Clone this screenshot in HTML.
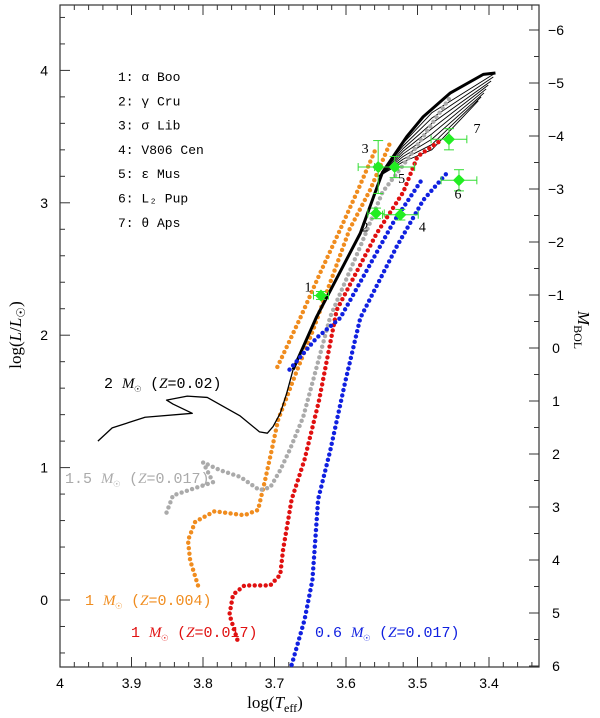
<!DOCTYPE html>
<html><head><meta charset="utf-8">
<style>
body{margin:0;background:#fff;}
svg{display:block;font-family:"Liberation Serif",serif;}
</style></head>
<body>
<svg id="chart" width="600" height="718" xmlns="http://www.w3.org/2000/svg"></svg>
<script>
// data: tracks as [logT, logL] vertices
const trackRed=[[3.752,-0.30],[3.763,-0.11],[3.758,0.04],[3.742,0.11],[3.706,0.11],[3.692,0.19],[3.688,0.38],[3.676,0.76],[3.658,1.06],[3.638,1.50],[3.613,2.19],[3.557,2.77],[3.520,3.08],[3.500,3.35],[3.465,3.48]];
const trackOrange=[[3.807,0.11],[3.818,0.30],[3.821,0.45],[3.811,0.59],[3.784,0.67],[3.742,0.64],[3.723,0.68],[3.713,0.91],[3.704,1.13],[3.695,1.36],[3.671,1.70],[3.646,2.04],[3.626,2.34],[3.595,2.80],[3.566,3.10],[3.537,3.47]];
const trackOrange2=[[3.696,1.76],[3.664,2.13],[3.637,2.46],[3.608,2.80],[3.583,3.10],[3.559,3.40]];
const trackGray=[[3.851,0.66],[3.842,0.79],[3.786,0.89],[3.800,1.04],[3.776,0.98],[3.748,0.93],[3.721,0.83],[3.706,0.85],[3.692,0.98],[3.679,1.13],[3.660,1.38],[3.646,1.66],[3.622,2.14],[3.580,2.67],[3.549,3.08],[3.511,3.35],[3.473,3.65],[3.454,3.80]];
const trackBlue=[[3.676,-0.49],[3.658,-0.15],[3.647,0.15],[3.643,0.45],[3.639,0.76],[3.622,1.13],[3.601,1.65],[3.580,2.13],[3.529,2.67],[3.492,3.02],[3.458,3.23]];
const trackBlue2=[[3.679,1.74],[3.641,1.98],[3.608,2.13],[3.575,2.45],[3.534,2.85],[3.492,3.19]];
const track2M=[[3.947,1.20],[3.927,1.30],[3.881,1.38],[3.815,1.41],[3.842,1.48],[3.851,1.51],[3.822,1.54],[3.794,1.53],[3.748,1.39],[3.721,1.27],[3.710,1.26],[3.702,1.31],[3.692,1.41],[3.683,1.56],[3.674,1.74]];
const track2Mrgb=[[3.674,1.74],[3.641,2.14],[3.580,2.77],[3.549,3.23],[3.515,3.50],[3.492,3.65],[3.454,3.83],[3.408,3.97],[3.391,3.98]];
const agbEnds=[[3.391,3.98],[3.394,3.95],[3.397,3.92],[3.401,3.89],[3.404,3.86],[3.407,3.83],[3.411,3.80],[3.415,3.77]];
const starNames=["1","2","3","4","5","6","7"];
const starT=[3.635,3.558,3.555,3.524,3.532,3.442,3.456];
const starL=[2.30,2.92,3.27,2.91,3.27,3.17,3.48];
const starTerr=[0.0105,0.0115,0.028,0.025,0.028,0.025,0.025];
const starLerr=[0.03,0.04,0.20,0.04,0.08,0.08,0.08];
const legendLines=["1: α Boo","2: γ Cru","3: σ Lib","4: V806 Cen","5: ε Mus","6: L₂ Pup","7: θ Aps"];
const xTicks=[4,3.9,3.8,3.7,3.6,3.5,3.4];
const yTicks=[0,1,2,3,4];
const mTicks=[-6,-5,-4,-3,-2,-1,0,1,2,3,4,5,6];

const X=t=>60+(4-t)*715;
const Y=l=>600-l*132.4;
const YM=m=>348+m*53;
const svg=document.getElementById('chart');
const NS='http://www.w3.org/2000/svg';
function mk(tag,attrs,parent){const e=document.createElementNS(NS,tag);for(const k in attrs)e.setAttribute(k,attrs[k]);(parent||svg).appendChild(e);return e;}

const frame=mk('rect',{x:60,y:5,width:479,height:662,fill:'none',stroke:'#333','stroke-width':1.2});



for(let i=0;i<=34;i++){const t=4-i*0.02;const x=X(t);if(x>539)continue;const maj=i%5===0;const L=maj?10:5;
mk('line',{x1:x,y1:667,x2:x,y2:667-L,stroke:'#333'});mk('line',{x1:x,y1:5,x2:x,y2:5+L,stroke:'#333'});}
xTicks.forEach(t=>{const e=mk('text',{x:X(t),y:688,'text-anchor':'middle','font-size':14,'font-family':'"Liberation Sans",sans-serif'});e.textContent=String(t);
});
for(let i=-3;i<=23;i++){const l=i*0.2;const y=Y(l);if(y<5||y>667)continue;const maj=i%5===0;const L=maj?10:5;
mk('line',{x1:60,y1:y,x2:60+L,y2:y,stroke:'#333'});}
yTicks.forEach(l=>{const e=mk('text',{x:48,y:Y(l)+5,'text-anchor':'end','font-size':14,'font-family':'"Liberation Sans",sans-serif'});e.textContent=String(l);
});
for(let i=-13;i<=12;i++){const m=i*0.5;const y=YM(m);if(y<5||y>667)continue;const maj=i%2===0;const L=maj?10:5;
mk('line',{x1:539,y1:y,x2:539-L,y2:y,stroke:'#333'});}
mTicks.forEach(m=>{const e=mk('text',{x:556,y:YM(m)+5,'text-anchor':'middle','font-size':14,'font-family':'"Liberation Sans",sans-serif'});e.textContent=m<0?'−'+(-m):String(m);
});

let e=mk('text',{x:275,y:708,'font-size':17,'text-anchor':'middle'});e.innerHTML='log(<tspan font-style="italic">T</tspan><tspan font-size="12" dy="4">eff</tspan><tspan dy="-4">)</tspan>';

e=mk('text',{x:0,y:0,'font-size':17,'text-anchor':'middle',transform:'translate(21,335) rotate(-90)'});e.innerHTML='log(<tspan font-style="italic">L</tspan>/<tspan font-style="italic">L</tspan><tspan font-size="12" dy="4">☉</tspan><tspan dy="-4">)</tspan>';

e=mk('text',{x:0,y:0,'font-size':17,'text-anchor':'middle',transform:'translate(578,330) rotate(90)'});e.innerHTML='<tspan font-style="italic">M</tspan><tspan font-size="12" dy="4">BOL</tspan>';


function dotted(pts,color,name,sp){const g=mk('g',{fill:color});
const P=pts.map(p=>[X(p[0]),Y(p[1])]);let carry=0;
for(let i=0;i<P.length-1;i++){const [x1,y1]=P[i],[x2,y2]=P[i+1];const d=Math.hypot(x2-x1,y2-y1);let s=carry;
while(s<=d){mk('circle',{cx:x1+(x2-x1)*s/d,cy:y1+(y2-y1)*s/d,r:2.2},g);s+=sp;}carry=s-d;}}
function line(pts,w,name){const p=mk('polyline',{points:pts.map(q=>X(q[0])+','+Y(q[1])).join(' '),fill:'none',stroke:'#000','stroke-width':w,'stroke-linejoin':'round'});
}

dotted(trackOrange,'#f08c1e','track-1msun-z0004',5.5);
dotted(trackOrange2,'#f08c1e','track-1msun-z0004-agb',5.5);
line(track2M,1.3,'track-2msun-ms');
line(track2Mrgb,3,'track-2msun-rgb');
agbEnds.forEach((p,i)=>{const s=[[3.554,3.20],[3.520,3.45-i*0.02],[3.480,3.68-i*0.04],p];line(s,0.9,'track-2msun-agb');});
dotted(trackGray,'#aaaaaa','track-1-5msun',5.5);
dotted(trackRed,'#e01010','track-1msun-z0017',5.5);
dotted(trackBlue,'#1020e0','track-0-6msun',5.5);
dotted(trackBlue2,'#1020e0','track-0-6msun-agb',5.5);

const nameOff=[[-13,-4],[-11,18],[-13,-14],[22,17],[7,16],[-1,18],[28,-6]];
starT.forEach((t,i)=>{const g=mk('g',{});
const x=X(t),y=Y(starL[i]),dx=starTerr[i]*715,dy=starLerr[i]*132.4;
mk('line',{x1:x-dx,y1:y,x2:x+dx,y2:y,stroke:'#33dd33'},g);mk('line',{x1:x,y1:y-dy,x2:x,y2:y+dy,stroke:'#33dd33'},g);
mk('line',{x1:x-dx,y1:y-4,x2:x-dx,y2:y+4,stroke:'#33dd33'},g);mk('line',{x1:x+dx,y1:y-4,x2:x+dx,y2:y+4,stroke:'#33dd33'},g);
mk('line',{x1:x-5,y1:y-dy,x2:x+5,y2:y-dy,stroke:'#33dd33'},g);mk('line',{x1:x-5,y1:y+dy,x2:x+5,y2:y+dy,stroke:'#33dd33'},g);
mk('polygon',{points:`${x},${y-6} ${x+6},${y} ${x},${y+6} ${x-6},${y}`,fill:'#22ee22'},g);
const tx=mk('text',{x:x+nameOff[i][0],y:y+nameOff[i][1],'font-size':14,'text-anchor':'middle'},g);tx.textContent=starNames[i];});

legendLines.forEach((s,i)=>{const t=mk('text',{x:118,y:81+i*24.3,'font-size':13,'font-family':'"Liberation Mono","DejaVu Sans Mono",monospace'});t.textContent=s;
});

function lab(x,y,c,html,name){const t=mk('text',{x:x,y:y,'font-size':15,fill:c,'font-family':'"Liberation Mono","DejaVu Sans Mono",monospace'});t.innerHTML=html;
}
const M='<tspan font-family="Liberation Serif" font-style="italic">M</tspan><tspan font-size="11" dy="4">☉</tspan><tspan dy="-4"> (<tspan font-family="Liberation Serif" font-style="italic">Z</tspan>=';
lab(104,388,'#000','2 '+M+'0.02)</tspan>','label-2msun');
lab(65,483,'#aaaaaa','1.5 '+M+'0.017)</tspan>','label-1-5msun');
lab(85,605,'#f08c1e','1 '+M+'0.004)</tspan>','label-1msun-z0004');
lab(131,637,'#e01010','1 '+M+'0.017)</tspan>','label-1msun-z0017');
lab(315,637,'#1020e0','0.6 '+M+'0.017)</tspan>','label-0-6msun');
</script>
</body></html>
